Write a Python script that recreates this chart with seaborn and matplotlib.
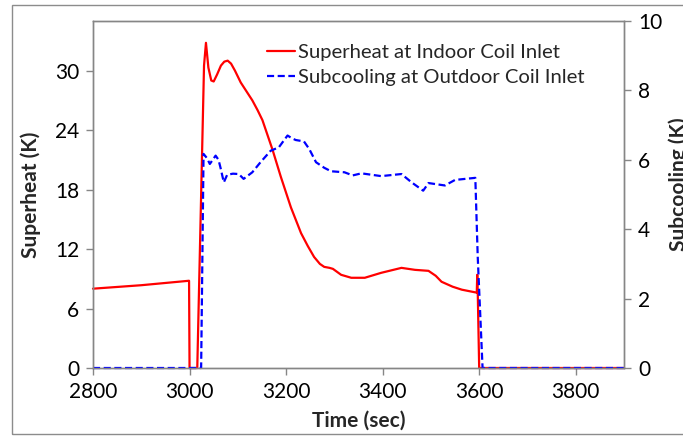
import numpy as np
import pandas as pd
import matplotlib
matplotlib.use("Agg")
import matplotlib.pyplot as plt
import seaborn as sns
from matplotlib.patches import Rectangle

# --- data ---
sh_time = [2800, 2900, 2999, 3000, 3016, 3030, 3034, 3039, 3045, 3050, 3057, 3065, 3072,
           3079, 3086, 3094, 3106, 3118, 3130, 3141, 3151,
           3172, 3189, 3210, 3231, 3245, 3258, 3270, 3279, 3290, 3297, 3314, 3335, 3363, 3397,
           3439, 3467, 3495, 3510, 3522, 3545, 3564, 3595, 3596, 3597, 3600, 3700, 3800, 3900]
sh_vals = [8.0, 8.35, 8.8, 0.0, 0.0, 30.5, 32.8, 30.3, 29.0, 28.9, 29.6, 30.5, 30.9,
           31.0, 30.7, 30.0, 28.8, 27.9, 27.0, 26.0, 25.0,
           22.0, 19.3, 16.2, 13.6, 12.3, 11.2, 10.5, 10.2, 10.1, 10.0, 9.4, 9.1, 9.1, 9.6,
           10.1, 9.9, 9.8, 9.3, 8.7, 8.2, 7.9, 7.6, 9.4, 7.7, 0.0, 0.0, 0.0, 0.0]

sc_time = [2800, 2900, 3024, 3029, 3036, 3042, 3048, 3054, 3060, 3064, 3071, 3078, 3090, 3102,
           3112, 3130, 3147, 3168, 3185, 3195, 3203, 3212, 3220, 3237, 3248, 3262, 3279, 3293,
           3321, 3338, 3356, 3397, 3439, 3460, 3484, 3495, 3529, 3550, 3592, 3597, 3607,
           3700, 3800, 3900]
sc_vals = [0.0, 0.0, 0.0, 6.17, 6.05, 5.88, 6.0, 6.12, 6.0, 5.78, 5.35, 5.57, 5.6, 5.59,
           5.45, 5.64, 5.93, 6.26, 6.36, 6.55, 6.70, 6.62, 6.57, 6.53, 6.31, 5.93, 5.77, 5.67,
           5.64, 5.55, 5.61, 5.53, 5.59, 5.35, 5.11, 5.33, 5.26, 5.42, 5.48, 3.2, 0.0,
           0.0, 0.0, 0.0]

x_ticks = [2800, 3000, 3200, 3400, 3600, 3800]
y1_ticks = [0, 6, 12, 18, 24, 30]
y2_ticks = [0, 2, 4, 6, 8, 10]

sh_label = "Superheat at Indoor Coil Inlet"
sc_label = "Subcooling at Outdoor Coil Inlet"

df_sh = pd.DataFrame({"t": sh_time, "v": sh_vals})
df_sc = pd.DataFrame({"t": sc_time, "v": sc_vals})

sns.set_style("white")
plt.rcParams["font.family"] = ["Lato", "DejaVu Sans"]

fig = plt.figure(figsize=(6.83, 4.36), dpi=100)
ax = fig.add_axes([93 / 683, 1 - 368 / 436, (624 - 93) / 683, (368 - 21) / 436])
ax2 = ax.twinx()

sns.lineplot(data=df_sh, x="t", y="v", ax=ax, color="#ff0000", lw=1.6,
             estimator=None, sort=False, label=sh_label, legend=False)
sns.lineplot(data=df_sc, x="t", y="v", ax=ax2, color="#0000ff", lw=1.6,
             estimator=None, sort=False, label=sc_label, legend=False,
             dashes=False)
ax2.lines[0].set_dashes([3.2, 1.6])
ax2.lines[0].set_clip_on(False)
ax.lines[0].set_clip_on(False)
for ln in ax.lines + ax2.lines:
    ln.set_solid_joinstyle("round")
    ln.set_dash_joinstyle("round")

ax.set_xlim(2800, 3900)
ax.set_ylim(0, 35)
ax2.set_ylim(0, 10)
ax.set_xticks(x_ticks)
ax.set_yticks(y1_ticks)
ax2.set_yticks(y2_ticks)

spine_c = "#868686"
for a in (ax, ax2):
    for s in a.spines.values():
        s.set_color(spine_c)
        s.set_linewidth(1.0)
    a.tick_params(direction="out", length=5, width=1, color=spine_c,
                  labelsize=15, labelcolor="black", pad=5)
ax.tick_params(axis="y", left=True, right=False)
ax.tick_params(axis="x", bottom=True)
ax2.tick_params(axis="y", right=True, left=False)

ax.set_xlabel("Time (sec)", fontsize=15, fontweight="bold", labelpad=6)
ax.set_ylabel("Superheat (K)", fontsize=15, fontweight="bold", labelpad=10)
ax2.set_ylabel("Subcooling (K)", fontsize=15, fontweight="bold", labelpad=4)
ax2.yaxis.set_label_coords(1.083, 0.53)
ax.grid(False)
ax2.grid(False)

h1 = ax.lines[0]
h2 = ax2.lines[0]
leg = ax.legend([h1, h2], [sh_label, sc_label], loc="upper left",
                bbox_to_anchor=(0.328, 0.935), frameon=False, fontsize=14.6,
                handlelength=1.35, handletextpad=0.15, labelspacing=0.42,
                borderaxespad=0.0, borderpad=0.0)

fig.patches.append(Rectangle((11.5 / 683, 1 - 434 / 436), (700 - 11.5) / 683, (434 - 5) / 436,
                             transform=fig.transFigure, fill=False,
                             edgecolor="#8c8c8c", lw=1.0))

fig.savefig("out.png", dpi=100)
